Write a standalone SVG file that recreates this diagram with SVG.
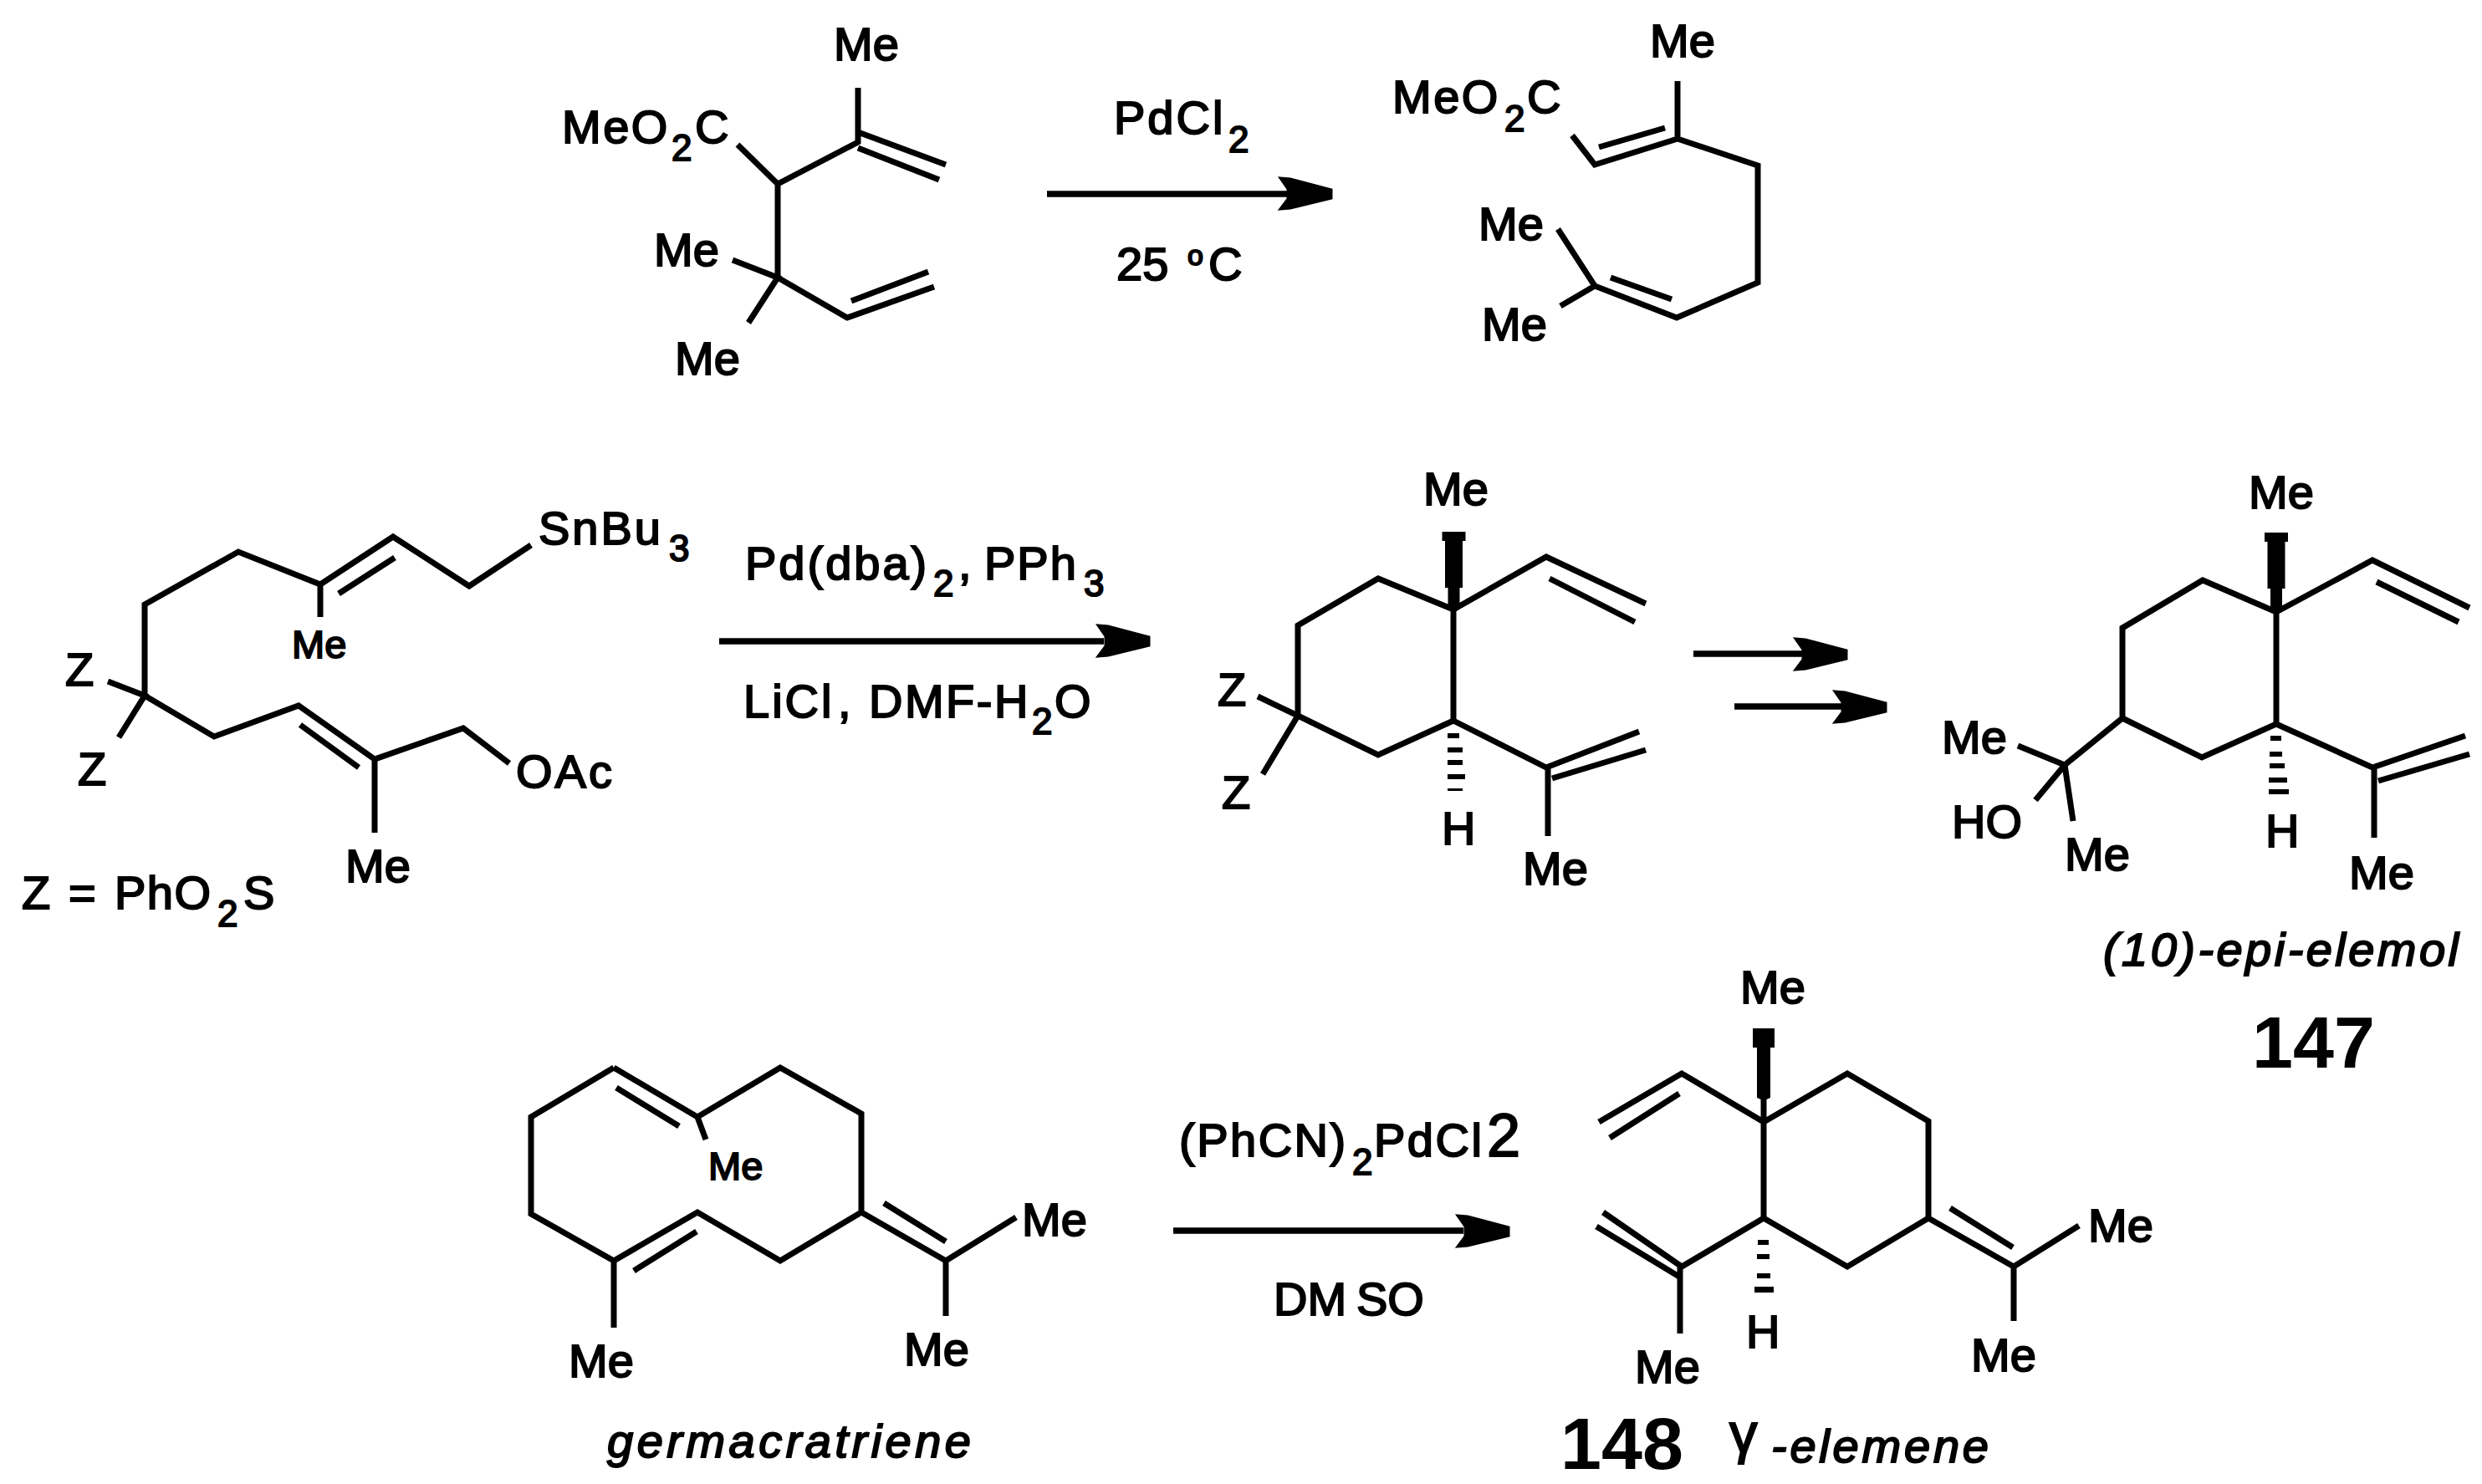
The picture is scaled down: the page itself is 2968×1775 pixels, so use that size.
<svg xmlns="http://www.w3.org/2000/svg" width="2968" height="1775" viewBox="0 0 2968 1775">
<style>
text{font-family:"Liberation Sans",Arial,sans-serif;fill:#000;stroke:#000;stroke-width:2px}
.t{font-size:56px}
.sp{letter-spacing:2.5px}
.s{font-size:44px;letter-spacing:0}
.m{font-size:47px}
.i{font-size:56px;font-style:italic}
.b{font-size:88px;font-weight:bold;stroke-width:0}
.bond{fill:none;stroke:#000;stroke-width:7;stroke-linejoin:miter;stroke-linecap:butt}
.line{fill:none;stroke:#000;stroke-width:7.5}
.hd{fill:#000;stroke:#000;stroke-width:3}
</style>
<defs>
<path id="head" class="hd" d="M-1,-5 L-50,-18 L-62,-19 L-53,-6 L-53,6 L-62,18 L-50,17 L-1,5 Z"/>
<path id="wedgeA" d="M-14,0 H14 V11 H10.500 V67 H7 V88 L3.500,95 H-3.500 L-7,88 V67 H-10.500 V11 H-14 Z"/>
<path id="wedgeB" d="M-13,0 H13 V23 H8 V83 L3.500,85 V112 H-3.500 V85 L-8,83 V23 H-13 Z"/>
</defs>
<rect width="2968" height="1775" fill="#fff"/>

<g id="connectors">
<line class="line" x1="1252" y1="232" x2="1540" y2="232"/><use href="#head" x="1593" y="232"/>
<line class="line" x1="860" y1="767" x2="1320" y2="767"/><use href="#head" x="1375" y="767"/>
<line class="line" x1="2025" y1="782" x2="2160" y2="782"/><use href="#head" x="2209" y="783"/>
<line class="line" x1="2074" y1="845" x2="2205" y2="845"/><use href="#head" x="2256" y="846"/>
<line class="line" x1="1403" y1="1472" x2="1750" y2="1472"/><use href="#head" x="1805" y="1473"/>
</g>

<g id="diene-ester">
<path class="bond" d="M1026,105V170L930,220L882,173M930,220V332M876,311L930,332L895,386M930,332L1013,380L1117,343M1018,360L1110,325M1026,158L1131,197M1026,177L1123,215"/>
<text class="t" x="997" y="72">Me</text>
<text class="t sp" x="672" y="171">MeO<tspan class="s" x="803" y="192">2</tspan><tspan x="831" y="171">C</tspan></text>
<text class="t" x="782" y="318">Me</text>
<text class="t" x="807" y="448">Me</text>
</g>

<g id="reagents-1">
<text class="t" x="1332" y="160" letter-spacing="3">PdCl<tspan class="s" x="1469" y="182">2</tspan></text>
<text class="t" x="1335" y="335">25<tspan font-size="34" x="1420" y="317">o</tspan><tspan x="1445" y="335">C</tspan></text>
</g>

<g id="rearranged-ester">
<path class="bond" d="M2006,97V166L1907,197L1880,162M1912,176L1991,153M2006,166L2102,198V338L2005,380L1907,342L1863,274M1907,342L1866,366M1926,332L1999,358"/>
<text class="t" x="1973" y="68">Me</text>
<text class="t sp" x="1665" y="135">MeO<tspan class="s" x="1799" y="157">2</tspan><tspan x="1826" y="135">C</tspan></text>
<text class="t" x="1768" y="287">Me</text>
<text class="t" x="1772" y="407">Me</text>
</g>

<g id="stannane-acetate">
<path class="bond" d="M635,652L561,701L470,642L383,699L285,660L173,723V832L256,881L357,844L448,908L554,871L609,913M472,667L405,710M383,699V738M129,815L173,832L142,882M359,867L429,918M448,908V996"/>
<text class="t" x="644" y="651" letter-spacing="3">SnBu<tspan class="s" x="800" y="671">3</tspan></text>
<text class="m" x="349" y="787">Me</text>
<text class="t" x="78" y="820">Z</text>
<text class="t" x="93" y="939">Z</text>
<text class="t" x="617" y="942" letter-spacing="3">OAc</text>
<text class="t" x="413" y="1055">Me</text>
<text class="t" x="26" y="1087" letter-spacing="1.500">Z<tspan x="82">=</tspan><tspan x="137">PhO</tspan><tspan class="s" x="260" y="1108">2</tspan><tspan x="291" y="1087">S</tspan></text>
</g>

<g id="reagents-2">
<text class="t" x="891" y="693" letter-spacing="3">Pd(dba)<tspan class="s" x="1116" y="713">2</tspan><tspan x="1146" y="693">,</tspan><tspan x="1177" letter-spacing="2">PPh</tspan><tspan class="s" x="1296" y="713">3</tspan></text>
<text class="t" x="889" y="858" letter-spacing="3">LiCl<tspan x="1002">,</tspan><tspan x="1039" letter-spacing="2.500">DMF-H</tspan><tspan class="s" x="1234" y="878">2</tspan><tspan x="1261" y="858">O</tspan></text>
</g>

<g id="elemane-sulfone">
<use href="#wedgeA" x="1738.500" y="636"/>
<path class="bond" d="M1738,729L1849,666L1968,722M1853,692L1955,744M1738,729L1648,692L1552,748V856L1648,903L1738,862V729M1504,833L1552,856L1510,926M1738,862L1849,918L1960,875M1856,931L1968,897M1851,918V1000"/>
<g fill="#000"><rect x="1731" y="877" width="14" height="6"/><rect x="1731" y="894" width="18" height="6"/><rect x="1731" y="909" width="18" height="6"/><rect x="1731" y="926" width="21" height="6"/><rect x="1731" y="943" width="18" height="3"/></g>
<text class="t" x="1702" y="604">Me</text>
<text class="t" x="1456" y="844">Z</text>
<text class="t" x="1461" y="967">Z</text>
<text class="t" x="1724" y="1010">H</text>
<text class="t" x="1821" y="1058">Me</text>
</g>

<g id="epi-elemol">
<use href="#wedgeA" x="2722" y="637"/>
<path class="bond" d="M2722,732L2837,670L2953,727M2842,696L2940,744M2722,732L2634,694L2538,751V859L2633,906L2722,866V732M2722,866L2837,918L2948,880M2844,934L2953,902M2839,918V1002M2538,859L2469,915L2413,892M2469,915L2434,957M2469,915L2479,982"/>
<g fill="#000"><rect x="2715" y="880" width="13" height="6"/><rect x="2714" y="899" width="15" height="6"/><rect x="2714" y="913" width="18" height="6"/><rect x="2713" y="930" width="22" height="6"/><rect x="2713" y="944" width="24" height="6"/></g>
<text class="t" x="2689" y="608">Me</text>
<text class="t" x="2322" y="901">Me</text>
<text class="t" x="2334" y="1002">HO</text>
<text class="t" x="2469" y="1041">Me</text>
<text class="t" x="2709" y="1013">H</text>
<text class="t" x="2809" y="1063">Me</text>
<text class="i" x="2515" y="1155" textLength="425">(10)-epi-elemol</text>
<text class="b" x="2693" y="1277">147</text>
</g>

<g id="germacratriene">
<path class="bond" d="M734,1277L635,1336V1452L734,1508L834,1450L933,1508L1030,1450V1332L933,1277L834,1336L734,1277M833,1473L758,1520M737,1301L812,1347M834,1336L844,1363M1030,1450L1131,1508L1215,1456M1057,1439L1131,1485M1131,1508V1574M734,1508V1588"/>
<text class="m" x="847" y="1411">Me</text>
<text class="t" x="1222" y="1478">Me</text>
<text class="t" x="1081" y="1633">Me</text>
<text class="t" x="680" y="1647">Me</text>
<text class="i" x="726" y="1743" textLength="435">germacratriene</text>
</g>

<g id="reagents-3">
<text class="t" x="1410" y="1383" letter-spacing="2.500">(PhCN)<tspan class="s" x="1617" y="1405">2</tspan><tspan x="1643" y="1383">PdCl</tspan><tspan font-size="72" x="1778" letter-spacing="0">2</tspan></text>
<text class="t" x="1523" y="1573">DM<tspan x="1622">SO</tspan></text>
</g>

<g id="gamma-elemene">
<use href="#wedgeB" x="2109" y="1230"/>
<path class="bond" d="M2109,1342L2011,1284L1912,1342M2008,1308L1925,1361M2109,1342L2209,1284L2306,1341V1457L2209,1515L2109,1457V1342M2109,1457L2011,1515L1917,1450M2008,1527L1909,1467M2009,1515V1595M2306,1457L2408,1515L2486,1466M2332,1445L2407,1492M2408,1515V1580"/>
<g fill="#000"><rect x="2102" y="1483" width="13" height="6"/><rect x="2101" y="1500" width="15" height="6"/><rect x="2101" y="1523" width="16" height="6"/><rect x="2098" y="1539" width="23" height="7"/></g>
<text class="t" x="2081" y="1200">Me</text>
<text class="t" x="2497" y="1485">Me</text>
<text class="t" x="2357" y="1640">Me</text>
<text class="t" x="1955" y="1654">Me</text>
<text class="t" x="2088" y="1612">H</text>
<text class="b" x="1866" y="1757">148</text>
<text font-size="67" x="2068" y="1737">γ</text>
<text class="i" x="2118" y="1749" textLength="260">-elemene</text>
</g>
</svg>
